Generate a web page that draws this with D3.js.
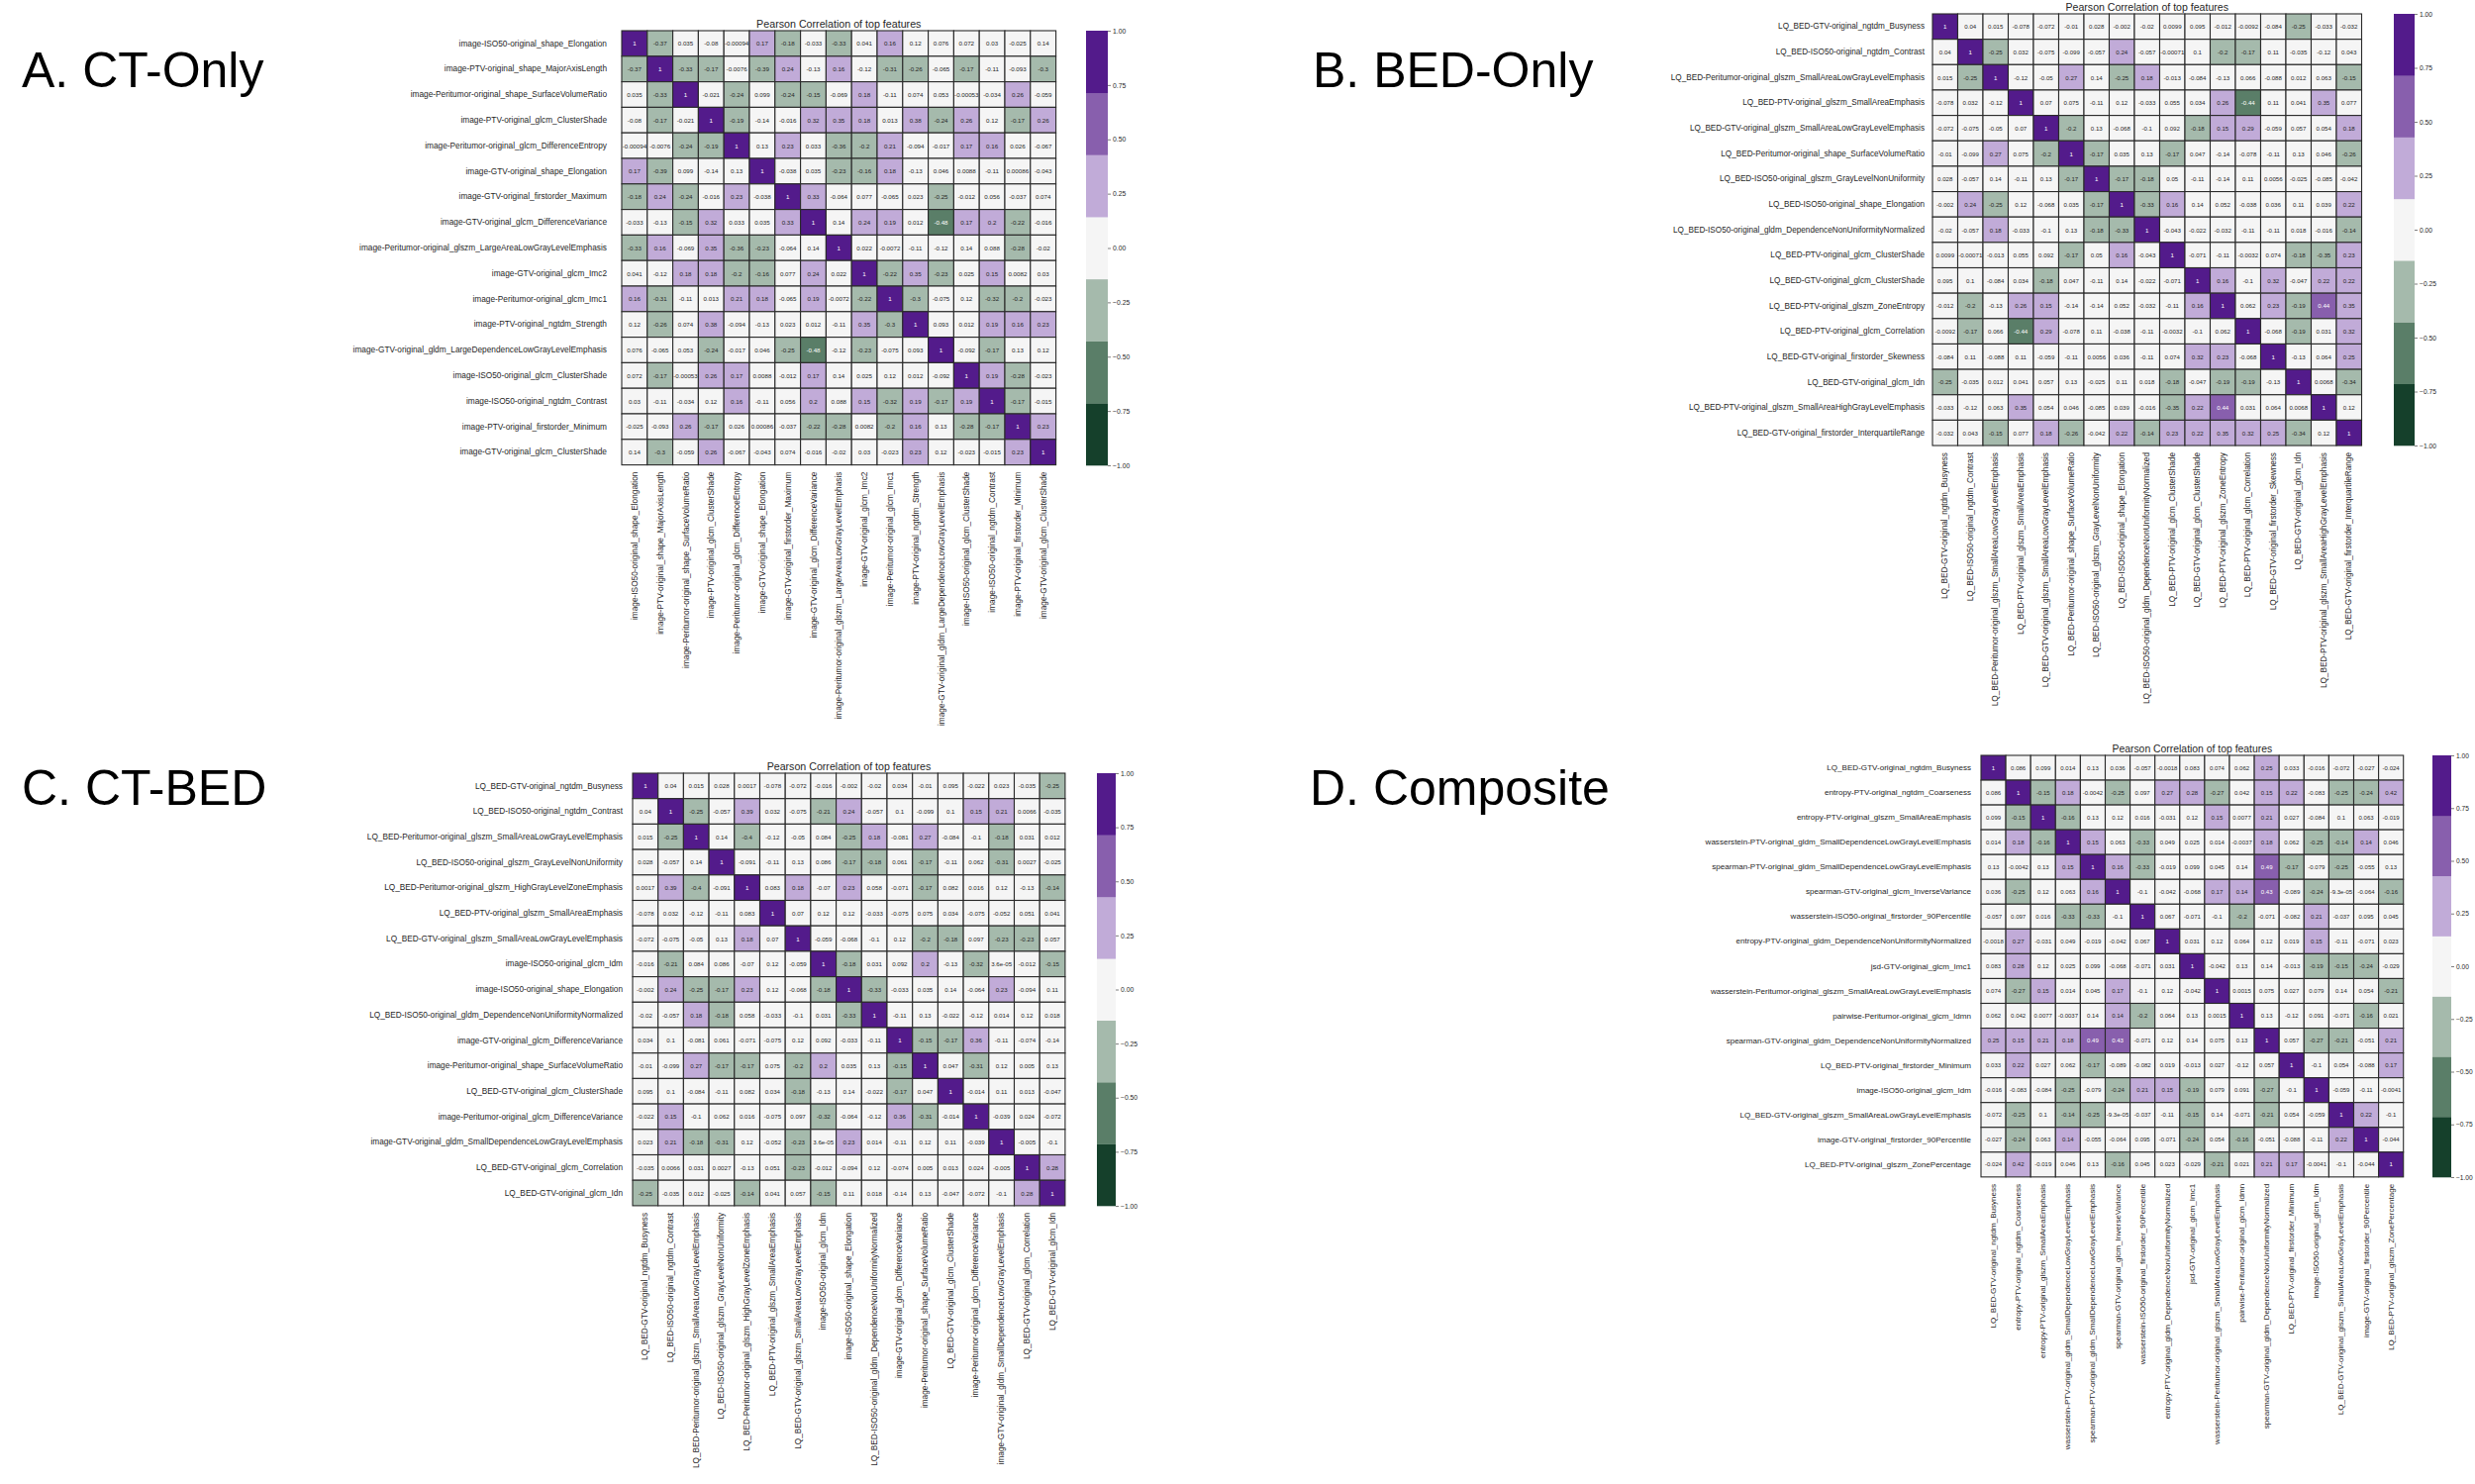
<!DOCTYPE html>
<html><head><meta charset="utf-8">
<script src="https://cdn.jsdelivr.net/npm/d3@7"></script>
<style>body{margin:0;background:#fff;} svg{display:block;font-family:"Liberation Sans",Arial,sans-serif;}</style>
</head><body>
<svg id="chart" width="2500" height="1499"></svg>
<script>
// ---------------- DATA ----------------
const labelsA = [
"image-ISO50-original_shape_Elongation",
"image-PTV-original_shape_MajorAxisLength",
"image-Peritumor-original_shape_SurfaceVolumeRatio",
"image-PTV-original_glcm_ClusterShade",
"image-Peritumor-original_glcm_DifferenceEntropy",
"image-GTV-original_shape_Elongation",
"image-GTV-original_firstorder_Maximum",
"image-GTV-original_glcm_DifferenceVariance",
"image-Peritumor-original_glszm_LargeAreaLowGrayLevelEmphasis",
"image-GTV-original_glcm_Imc2",
"image-Peritumor-original_glcm_Imc1",
"image-PTV-original_ngtdm_Strength",
"image-GTV-original_gldm_LargeDependenceLowGrayLevelEmphasis",
"image-ISO50-original_glcm_ClusterShade",
"image-ISO50-original_ngtdm_Contrast",
"image-PTV-original_firstorder_Minimum",
"image-GTV-original_glcm_ClusterShade"];
const corrA = [
[1,-0.37,0.035,-0.08,-0.00094,0.17,-0.18,-0.033,-0.33,0.041,0.16,0.12,0.076,0.072,0.03,-0.025,0.14],
[-0.37,1,-0.33,-0.17,-0.0076,-0.39,0.24,-0.13,0.16,-0.12,-0.31,-0.26,-0.065,-0.17,-0.11,-0.093,-0.3],
[0.035,-0.33,1,-0.021,-0.24,0.099,-0.24,-0.15,-0.069,0.18,-0.11,0.074,0.053,-0.00053,-0.034,0.26,-0.059],
[-0.08,-0.17,-0.021,1,-0.19,-0.14,-0.016,0.32,0.35,0.18,0.013,0.38,-0.24,0.26,0.12,-0.17,0.26],
[-0.00094,-0.0076,-0.24,-0.19,1,0.13,0.23,0.033,-0.36,-0.2,0.21,-0.094,-0.017,0.17,0.16,0.026,-0.067],
[0.17,-0.39,0.099,-0.14,0.13,1,-0.038,0.035,-0.23,-0.16,0.18,-0.13,0.046,0.0088,-0.11,0.00086,-0.043],
[-0.18,0.24,-0.24,-0.016,0.23,-0.038,1,0.33,-0.064,0.077,-0.065,0.023,-0.25,-0.012,0.056,-0.037,0.074],
[-0.033,-0.13,-0.15,0.32,0.033,0.035,0.33,1,0.14,0.24,0.19,0.012,-0.48,0.17,0.2,-0.22,-0.016],
[-0.33,0.16,-0.069,0.35,-0.36,-0.23,-0.064,0.14,1,0.022,-0.0072,-0.11,-0.12,0.14,0.088,-0.28,-0.02],
[0.041,-0.12,0.18,0.18,-0.2,-0.16,0.077,0.24,0.022,1,-0.22,0.35,-0.23,0.025,0.15,0.0082,0.03],
[0.16,-0.31,-0.11,0.013,0.21,0.18,-0.065,0.19,-0.0072,-0.22,1,-0.3,-0.075,0.12,-0.32,-0.2,-0.023],
[0.12,-0.26,0.074,0.38,-0.094,-0.13,0.023,0.012,-0.11,0.35,-0.3,1,0.093,0.012,0.19,0.16,0.23],
[0.076,-0.065,0.053,-0.24,-0.017,0.046,-0.25,-0.48,-0.12,-0.23,-0.075,0.093,1,-0.092,-0.17,0.13,0.12],
[0.072,-0.17,-0.00053,0.26,0.17,0.0088,-0.012,0.17,0.14,0.025,0.12,0.012,-0.092,1,0.19,-0.28,-0.023],
[0.03,-0.11,-0.034,0.12,0.16,-0.11,0.056,0.2,0.088,0.15,-0.32,0.19,-0.17,0.19,1,-0.17,-0.015],
[-0.025,-0.093,0.26,-0.17,0.026,0.00086,-0.037,-0.22,-0.28,0.0082,-0.2,0.16,0.13,-0.28,-0.17,1,0.23],
[0.14,-0.3,-0.059,0.26,-0.067,-0.043,0.074,-0.016,-0.02,0.03,-0.023,0.23,0.12,-0.023,-0.015,0.23,1]];

const labelsB = [
"LQ_BED-GTV-original_ngtdm_Busyness",
"LQ_BED-ISO50-original_ngtdm_Contrast",
"LQ_BED-Peritumor-original_glszm_SmallAreaLowGrayLevelEmphasis",
"LQ_BED-PTV-original_glszm_SmallAreaEmphasis",
"LQ_BED-GTV-original_glszm_SmallAreaLowGrayLevelEmphasis",
"LQ_BED-Peritumor-original_shape_SurfaceVolumeRatio",
"LQ_BED-ISO50-original_glszm_GrayLevelNonUniformity",
"LQ_BED-ISO50-original_shape_Elongation",
"LQ_BED-ISO50-original_gldm_DependenceNonUniformityNormalized",
"LQ_BED-PTV-original_glcm_ClusterShade",
"LQ_BED-GTV-original_glcm_ClusterShade",
"LQ_BED-PTV-original_glszm_ZoneEntropy",
"LQ_BED-PTV-original_glcm_Correlation",
"LQ_BED-GTV-original_firstorder_Skewness",
"LQ_BED-GTV-original_glcm_Idn",
"LQ_BED-PTV-original_glszm_SmallAreaHighGrayLevelEmphasis",
"LQ_BED-GTV-original_firstorder_InterquartileRange"];
const corrB = [
[1,0.04,0.015,-0.078,-0.072,-0.01,0.028,-0.002,-0.02,0.0099,0.095,-0.012,-0.0092,-0.084,-0.25,-0.033,-0.032],
[0.04,1,-0.25,0.032,-0.075,-0.099,-0.057,0.24,-0.057,-0.00071,0.1,-0.2,-0.17,0.11,-0.035,-0.12,0.043],
[0.015,-0.25,1,-0.12,-0.05,0.27,0.14,-0.25,0.18,-0.013,-0.084,-0.13,0.066,-0.088,0.012,0.063,-0.15],
[-0.078,0.032,-0.12,1,0.07,0.075,-0.11,0.12,-0.033,0.055,0.034,0.26,-0.44,0.11,0.041,0.35,0.077],
[-0.072,-0.075,-0.05,0.07,1,-0.2,0.13,-0.068,-0.1,0.092,-0.18,0.15,0.29,-0.059,0.057,0.054,0.18],
[-0.01,-0.099,0.27,0.075,-0.2,1,-0.17,0.035,0.13,-0.17,0.047,-0.14,-0.078,-0.11,0.13,0.046,-0.26],
[0.028,-0.057,0.14,-0.11,0.13,-0.17,1,-0.17,-0.18,0.05,-0.11,-0.14,0.11,0.0056,-0.025,-0.085,-0.042],
[-0.002,0.24,-0.25,0.12,-0.068,0.035,-0.17,1,-0.33,0.16,0.14,0.052,-0.038,0.036,0.11,0.039,0.22],
[-0.02,-0.057,0.18,-0.033,-0.1,0.13,-0.18,-0.33,1,-0.043,-0.022,-0.032,-0.11,-0.11,0.018,-0.016,-0.144],
[0.0099,-0.00071,-0.013,0.055,0.092,-0.17,0.05,0.16,-0.043,1,-0.071,-0.11,-0.0032,0.074,-0.18,-0.35,0.23],
[0.095,0.1,-0.084,0.034,-0.18,0.047,-0.11,0.14,-0.022,-0.071,1,0.16,-0.1,0.32,-0.047,0.22,0.22],
[-0.012,-0.2,-0.13,0.26,0.15,-0.14,-0.14,0.052,-0.032,-0.11,0.16,1,0.062,0.23,-0.19,0.44,0.35],
[-0.0092,-0.17,0.066,-0.44,0.29,-0.078,0.11,-0.038,-0.11,-0.0032,-0.1,0.062,1,-0.068,-0.19,0.031,0.32],
[-0.084,0.11,-0.088,0.11,-0.059,-0.11,0.0056,0.036,-0.11,0.074,0.32,0.23,-0.068,1,-0.13,0.064,0.25],
[-0.25,-0.035,0.012,0.041,0.057,0.13,-0.025,0.11,0.018,-0.18,-0.047,-0.19,-0.19,-0.13,1,0.0068,-0.34],
[-0.033,-0.12,0.063,0.35,0.054,0.046,-0.085,0.039,-0.016,-0.35,0.22,0.44,0.031,0.064,0.0068,1,0.12],
[-0.032,0.043,-0.15,0.077,0.18,-0.26,-0.042,0.22,-0.144,0.23,0.22,0.35,0.32,0.25,-0.34,0.12,1]];

const labelsC = [
"LQ_BED-GTV-original_ngtdm_Busyness",
"LQ_BED-ISO50-original_ngtdm_Contrast",
"LQ_BED-Peritumor-original_glszm_SmallAreaLowGrayLevelEmphasis",
"LQ_BED-ISO50-original_glszm_GrayLevelNonUniformity",
"LQ_BED-Peritumor-original_glszm_HighGrayLevelZoneEmphasis",
"LQ_BED-PTV-original_glszm_SmallAreaEmphasis",
"LQ_BED-GTV-original_glszm_SmallAreaLowGrayLevelEmphasis",
"image-ISO50-original_glcm_Idm",
"image-ISO50-original_shape_Elongation",
"LQ_BED-ISO50-original_gldm_DependenceNonUniformityNormalized",
"image-GTV-original_glcm_DifferenceVariance",
"image-Peritumor-original_shape_SurfaceVolumeRatio",
"LQ_BED-GTV-original_glcm_ClusterShade",
"image-Peritumor-original_glcm_DifferenceVariance",
"image-GTV-original_gldm_SmallDependenceLowGrayLevelEmphasis",
"LQ_BED-GTV-original_glcm_Correlation",
"LQ_BED-GTV-original_glcm_Idn"];
const corrC = [
[1,0.04,0.015,0.028,0.0017,-0.078,-0.072,-0.016,-0.002,-0.02,0.034,-0.01,0.095,-0.022,0.023,-0.035,-0.25],
[0.04,1,-0.25,-0.057,0.39,0.032,-0.075,-0.21,0.24,-0.057,0.1,-0.099,0.1,0.15,0.21,0.0066,-0.035],
[0.015,-0.25,1,0.14,-0.4,-0.12,-0.05,0.084,-0.25,0.18,-0.081,0.27,-0.084,-0.1,-0.18,0.031,0.012],
[0.028,-0.057,0.14,1,-0.091,-0.11,0.13,0.086,-0.17,-0.18,0.061,-0.17,-0.11,0.062,-0.31,0.0027,-0.025],
[0.0017,0.39,-0.4,-0.091,1,0.083,0.18,-0.07,0.23,0.058,-0.071,-0.17,0.082,0.016,0.12,-0.13,-0.144],
[-0.078,0.032,-0.12,-0.11,0.083,1,0.07,0.12,0.12,-0.033,-0.075,0.075,0.034,-0.075,-0.052,0.051,0.041],
[-0.072,-0.075,-0.05,0.13,0.18,0.07,1,-0.059,-0.068,-0.1,0.12,-0.2,-0.18,0.097,-0.23,-0.23,0.057],
[-0.016,-0.21,0.084,0.086,-0.07,0.12,-0.059,1,-0.18,0.031,0.092,0.2,-0.13,-0.32,3.6e-05,-0.012,-0.15],
[-0.002,0.24,-0.25,-0.17,0.23,0.12,-0.068,-0.18,1,-0.33,-0.033,0.035,0.14,-0.064,0.23,-0.094,0.11],
[-0.02,-0.057,0.18,-0.18,0.058,-0.033,-0.1,0.031,-0.33,1,-0.11,0.13,-0.022,-0.12,0.014,0.12,0.018],
[0.034,0.1,-0.081,0.061,-0.071,-0.075,0.12,0.092,-0.033,-0.11,1,-0.15,-0.17,0.36,-0.11,-0.074,-0.14],
[-0.01,-0.099,0.27,-0.17,-0.17,0.075,-0.2,0.2,0.035,0.13,-0.15,1,0.047,-0.31,0.12,0.005,0.13],
[0.095,0.1,-0.084,-0.11,0.082,0.034,-0.18,-0.13,0.14,-0.022,-0.17,0.047,1,-0.014,0.11,0.013,-0.047],
[-0.022,0.15,-0.1,0.062,0.016,-0.075,0.097,-0.32,-0.064,-0.12,0.36,-0.31,-0.014,1,-0.039,0.024,-0.072],
[0.023,0.21,-0.18,-0.31,0.12,-0.052,-0.23,3.6e-05,0.23,0.014,-0.11,0.12,0.11,-0.039,1,-0.005,-0.1],
[-0.035,0.0066,0.031,0.0027,-0.13,0.051,-0.23,-0.012,-0.094,0.12,-0.074,0.005,0.013,0.024,-0.005,1,0.28],
[-0.25,-0.035,0.012,-0.025,-0.144,0.041,0.057,-0.15,0.11,0.018,-0.14,0.13,-0.047,-0.072,-0.1,0.28,1]];

const labelsD = [
"LQ_BED-GTV-original_ngtdm_Busyness",
"entropy-PTV-original_ngtdm_Coarseness",
"entropy-PTV-original_glszm_SmallAreaEmphasis",
"wasserstein-PTV-original_gldm_SmallDependenceLowGrayLevelEmphasis",
"spearman-PTV-original_gldm_SmallDependenceLowGrayLevelEmphasis",
"spearman-GTV-original_glcm_InverseVariance",
"wasserstein-ISO50-original_firstorder_90Percentile",
"entropy-PTV-original_gldm_DependenceNonUniformityNormalized",
"jsd-GTV-original_glcm_Imc1",
"wasserstein-Peritumor-original_glszm_SmallAreaLowGrayLevelEmphasis",
"pairwise-Peritumor-original_glcm_Idmn",
"spearman-GTV-original_gldm_DependenceNonUniformityNormalized",
"LQ_BED-PTV-original_firstorder_Minimum",
"image-ISO50-original_glcm_Idm",
"LQ_BED-GTV-original_glszm_SmallAreaLowGrayLevelEmphasis",
"image-GTV-original_firstorder_90Percentile",
"LQ_BED-PTV-original_glszm_ZonePercentage"];
const corrD = [
[1,0.086,0.099,0.014,0.13,0.036,-0.057,-0.0018,0.083,0.074,0.062,0.25,0.033,-0.016,-0.072,-0.027,-0.024],
[0.086,1,-0.15,0.18,-0.0042,-0.25,0.097,0.27,0.28,-0.27,0.042,0.15,0.22,-0.083,-0.25,-0.24,0.42],
[0.099,-0.15,1,-0.16,0.13,0.12,0.016,-0.031,0.12,0.15,0.0077,0.21,0.027,-0.084,0.1,0.063,-0.019],
[0.014,0.18,-0.16,1,0.15,0.063,-0.33,0.049,0.025,0.014,-0.0037,0.18,0.062,-0.25,-0.144,0.144,0.046],
[0.13,-0.0042,0.13,0.15,1,0.16,-0.33,-0.019,0.099,0.045,0.14,0.49,-0.17,-0.079,-0.25,-0.055,0.13],
[0.036,-0.25,0.12,0.063,0.16,1,-0.1,-0.042,-0.068,0.17,0.144,0.43,-0.089,-0.24,-9.3e-05,-0.064,-0.16],
[-0.057,0.097,0.016,-0.33,-0.33,-0.1,1,0.067,-0.071,-0.1,-0.2,-0.071,-0.082,0.21,-0.037,0.095,0.045],
[-0.0018,0.27,-0.031,0.049,-0.019,-0.042,0.067,1,0.031,0.12,0.064,0.12,0.019,0.15,-0.11,-0.071,0.023],
[0.083,0.28,0.12,0.025,0.099,-0.068,-0.071,0.031,1,-0.042,0.13,0.14,-0.013,-0.19,-0.15,-0.24,-0.029],
[0.074,-0.27,0.15,0.014,0.045,0.17,-0.1,0.12,-0.042,1,0.0015,0.075,0.027,0.079,0.14,0.054,-0.21],
[0.062,0.042,0.0077,-0.0037,0.14,0.144,-0.2,0.064,0.13,0.0015,1,0.13,-0.12,0.091,-0.071,-0.16,0.021],
[0.25,0.15,0.21,0.18,0.49,0.43,-0.071,0.12,0.14,0.075,0.13,1,0.057,-0.27,-0.21,-0.051,0.21],
[0.033,0.22,0.027,0.062,-0.17,-0.089,-0.082,0.019,-0.013,0.027,-0.12,0.057,1,-0.1,0.054,-0.088,0.17],
[-0.016,-0.083,-0.084,-0.25,-0.079,-0.24,0.21,0.15,-0.19,0.079,0.091,-0.27,-0.1,1,-0.059,-0.11,-0.0041],
[-0.072,-0.25,0.1,-0.144,-0.25,-9.3e-05,-0.037,-0.11,-0.15,0.14,-0.071,-0.21,0.054,-0.059,1,0.22,-0.1],
[-0.027,-0.24,0.063,0.144,-0.055,-0.064,0.095,-0.071,-0.24,0.054,-0.16,-0.051,-0.088,-0.11,0.22,1,-0.044],
[-0.024,0.42,-0.019,0.046,0.13,-0.16,0.045,0.023,-0.029,-0.21,0.021,0.21,0.17,-0.0041,-0.1,-0.044,1]];

const panelTitles = ["A. CT-Only", "B. BED-Only", "C. CT-BED", "D. Composite"];
const heatmapTitle = "Pearson Correlation of top features";
const colorbarTicks = [1, 0.75, 0.5, 0.25, 0, -0.25, -0.5, -0.75, -1];

// ---------------- STYLE / LAYOUT ----------------
const palette = ["#15402b","#5a7e68","#a5baac","#f5f5f5","#c1abd8","#885fad","#531b8b"];
const color = d3.scaleQuantize().domain([-1, 1]).range(palette);
const darkText = new Set([palette[0], palette[1], palette[5], palette[6]]);

const layout = [
  {labels: labelsA, values: corrA, title: panelTitles[0], x0: 628, y0: 31, cw: 25.8, ch: 25.8,
   rowPad: 15, colPad: 7, cbX: 1097, cbW: 22, cbY0: 31, cbY1: 470, tx: 22, ty: 88},
  {labels: labelsB, values: corrB, title: panelTitles[1], x0: 1952, y0: 14, cw: 25.5, ch: 25.65,
   rowPad: 8, colPad: 7, cbX: 2418, cbW: 21, cbY0: 14, cbY1: 450, tx: 1326, ty: 88},
  {labels: labelsC, values: corrC, title: panelTitles[2], x0: 639, y0: 781, cw: 25.7, ch: 25.7,
   rowPad: 10, colPad: 7, cbX: 1108, cbW: 19, cbY0: 781, cbY1: 1218, tx: 22, ty: 813},
  {labels: labelsD, values: corrD, title: panelTitles[3], x0: 2001, y0: 763, cw: 25.1, ch: 25.05,
   rowPad: 10, colPad: 7, cbX: 2457, cbW: 19, cbY0: 763, cbY1: 1189, tx: 1323, ty: 813}
];

function fmtG(v) {
  if (v === 0) return "0";
  const e = Math.floor(Math.log10(Math.abs(v)));
  if (e < -4) {
    return v.toExponential(1).replace(/e([+-])(\d)$/, "e$10$2");
  }
  let s = v.toPrecision(2);
  if (s.indexOf(".") >= 0) s = s.replace(/0+$/, "").replace(/\.$/, "");
  return s;
}

const svg = d3.select("#chart");
svg.append("rect").attr("width", 2500).attr("height", 1499).attr("fill", "#fff");

layout.forEach(p => {
  const n = p.labels.length;
  const k = p.cw / 25.8;
  const g = svg.append("g");
  const x = d3.scaleBand().domain(d3.range(n)).range([p.x0, p.x0 + n * p.cw]).padding(0);
  const y = d3.scaleBand().domain(d3.range(n)).range([p.y0, p.y0 + n * p.ch]).padding(0);

  svg.append("text").attr("x", p.tx).attr("y", p.ty).attr("font-size", 50)
    .attr("fill", "#000").text(p.title);

  g.append("text").attr("x", p.x0 + n * p.cw / 2).attr("y", p.y0 - 3.5)
    .attr("text-anchor", "middle").attr("font-size", 10.7 * k).attr("fill", "#262626")
    .text(heatmapTitle);

  const cells = [];
  p.values.forEach((row, i) => row.forEach((v, j) => cells.push({i, j, v})));

  g.selectAll("rect.cell").data(cells).join("rect").attr("class", "cell")
    .attr("x", d => x(d.j)).attr("y", d => y(d.i))
    .attr("width", x.bandwidth()).attr("height", y.bandwidth())
    .attr("fill", d => color(d.v)).attr("stroke", "#2a2a2a").attr("stroke-width", 1.1);

  g.selectAll("text.ann").data(cells).join("text").attr("class", "ann")
    .attr("x", d => x(d.j) + x.bandwidth() / 2).attr("y", d => y(d.i) + y.bandwidth() / 2)
    .attr("text-anchor", "middle").attr("dominant-baseline", "central")
    .attr("font-size", 6.2 * k)
    .attr("fill", d => darkText.has(color(d.v)) ? "#ffffff" : "#262626")
    .text(d => fmtG(d.v));

  const yAxis = d3.axisLeft(y).tickSize(0).tickPadding(p.rowPad).tickFormat(i => p.labels[i]);
  const ya = g.append("g").attr("transform", `translate(${p.x0},0)`).call(yAxis);
  ya.select(".domain").remove();
  ya.selectAll("text").attr("font-size", 8.3 * k).attr("fill", "#262626")
    .attr("font-family", "'Liberation Sans',Arial,sans-serif");

  const xAxis = d3.axisBottom(x).tickSize(0).tickPadding(0).tickFormat(i => p.labels[i]);
  const xa = g.append("g").attr("transform", `translate(0,${p.y0 + n * p.ch})`).call(xAxis);
  xa.select(".domain").remove();
  xa.selectAll("text").attr("font-size", 8.3 * k).attr("fill", "#262626")
    .attr("font-family", "'Liberation Sans',Arial,sans-serif")
    .attr("text-anchor", "end").attr("dy", null)
    .attr("transform", `translate(0,${p.colPad}) rotate(-90)`)
    .attr("x", 0).attr("y", 0).attr("dominant-baseline", "central");

  const cb = d3.scaleLinear().domain([-1, 1]).range([p.cbY1, p.cbY0]);
  const edges = d3.range(8).map(i => -1 + i * 2 / 7);
  g.selectAll("rect.cb").data(palette).join("rect").attr("class", "cb")
    .attr("x", p.cbX).attr("width", p.cbW)
    .attr("y", (c, i) => cb(edges[i + 1])).attr("height", (c, i) => cb(edges[i]) - cb(edges[i + 1]) + 0.3)
    .attr("fill", c => c);
  const cAxis = d3.axisRight(cb).tickValues(colorbarTicks).tickSize(3).tickPadding(2).tickFormat(d3.format(".2f"));
  const ca = g.append("g").attr("transform", `translate(${p.cbX + p.cbW},0)`).call(cAxis);
  ca.select(".domain").remove();
  ca.selectAll("line").attr("stroke", "#262626").attr("stroke-width", 0.6);
  ca.selectAll("text").attr("font-size", 6.8 * k).attr("fill", "#262626")
    .attr("font-family", "'Liberation Sans',Arial,sans-serif");
});
</script>
</body></html>
